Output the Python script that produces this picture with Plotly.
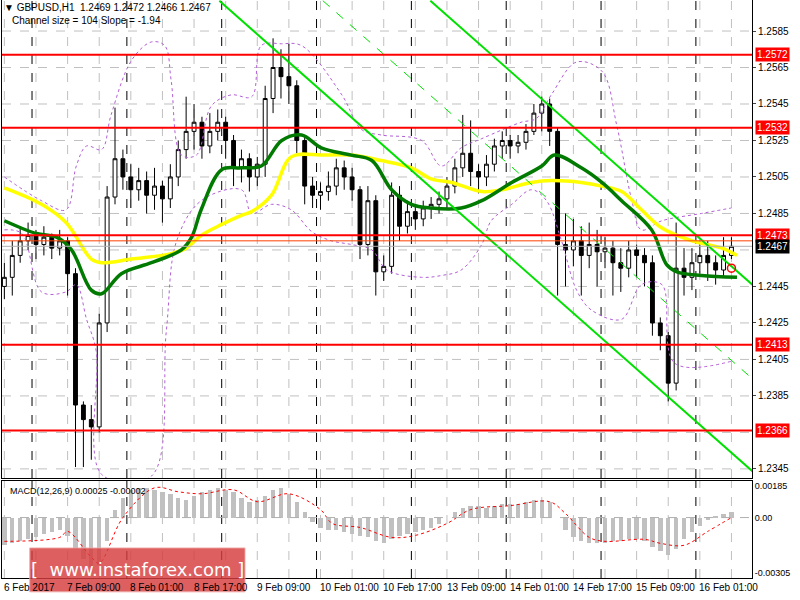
import plotly.graph_objects as go
from plotly.subplots import make_subplots

# ---------------- data (2-hour bars, index 0 = 6 Feb 2017 17:00) ----------------
close = [1.2450,1.2462,1.2470,1.2473,1.2468,1.2472,1.2466,1.2470,1.2452,1.2380,1.2372,1.2368,1.2425,1.2494,1.2515,1.2505,
         1.2498,1.2503,1.2495,1.2500,1.2493,1.2505,1.2520,1.2530,1.2535,1.2522,1.2530,1.2535,1.2525,1.2510,1.2515,1.2505,
         1.2512,1.2548,1.2565,1.2560,1.2555,1.2525,1.2500,1.2495,1.2497,1.2500,1.2510,1.2505,1.2498,1.2468,1.2492,1.2453,
         1.2456,1.2495,1.2478,1.2486,1.2482,1.2488,1.2490,1.2493,1.2500,1.2510,1.2518,1.2508,1.2505,1.2512,1.2522,1.2525,
         1.2522,1.2524,1.2530,1.2540,1.2545,1.2530,1.2468,1.2465,1.2470,1.2462,1.2468,1.2464,1.2466,1.2458,1.2455,1.2465,
         1.2462,1.2458,1.2425,1.2418,1.2392,1.2455,1.2450,1.2458,1.2462,1.2458,1.2454,1.2462,1.2467]
first_open = 1.2445
high = [1.2458,1.2470,1.2478,1.2480,1.2476,1.2478,1.2474,1.2476,1.2472,1.2455,1.2382,1.2380,1.2430,1.2500,1.2543,1.2520,
        1.2512,1.2510,1.2508,1.2510,1.2503,1.2512,1.2525,1.2549,1.2545,1.2538,1.2540,1.2542,1.2538,1.2528,1.2520,1.2518,
        1.2516,1.2555,1.2581,1.2575,1.2578,1.2558,1.2528,1.2505,1.2502,1.2508,1.2515,1.2514,1.2510,1.2500,1.2500,1.2495,
        1.2462,1.2502,1.2500,1.2492,1.2490,1.2492,1.2494,1.2497,1.2505,1.2515,1.2539,1.2536,1.2512,1.2517,1.2526,1.2530,
        1.2528,1.2528,1.2534,1.2545,1.2549,1.2548,1.2532,1.2485,1.2482,1.2478,1.2480,1.2476,1.2472,1.2470,1.2466,1.2470,
        1.2468,1.2466,1.2462,1.2428,1.2420,1.2480,1.2466,1.2466,1.2470,1.2470,1.2462,1.2472,1.2472]
low = [1.2438,1.2440,1.2458,1.2465,1.2460,1.2462,1.2460,1.2462,1.2440,1.2346,1.2346,1.2350,1.2365,1.2420,1.2490,1.2498,
       1.2488,1.2492,1.2485,1.2487,1.2480,1.2488,1.2500,1.2515,1.2520,1.2515,1.2518,1.2525,1.2515,1.2500,1.2502,1.2497,
       1.2500,1.2505,1.2540,1.2548,1.2545,1.2518,1.2490,1.2488,1.2487,1.2492,1.2495,1.2498,1.2492,1.2460,1.2462,1.2440,
       1.2448,1.2452,1.2470,1.2474,1.2476,1.2478,1.2482,1.2485,1.2488,1.2496,1.2505,1.2500,1.2496,1.2500,1.2508,1.2515,
       1.2515,1.2518,1.2520,1.2528,1.2530,1.2522,1.2440,1.2445,1.2456,1.2440,1.2455,1.2445,1.2455,1.2440,1.2442,1.2450,
       1.2450,1.2445,1.2418,1.2410,1.2382,1.2388,1.2440,1.2443,1.2452,1.2448,1.2446,1.2450,1.2460]

ma_fast_x = [0,4.05,6.6,8.5,11,12.3,14.8,18.6,22.4,23.7,24.9,27.5,30,32.5,35.1,37.6,40.1,43.9,46.5,49,51.5,54,57.8,60.4,64.2,68,69.6,73,75.6,78.1,81.9,83.8,85.1,88.2,92.7]
ma_fast_y = [1.2481,1.2474,1.2472,1.2465,1.2443,1.2441,1.2452,1.2458,1.2465,1.2472,1.2487,1.2509,1.2510,1.2511,1.2525,1.2528,1.2521,1.2517,1.2514,1.2498,1.2490,1.2488,1.2488,1.2492,1.2502,1.2511,1.2517,1.2510,1.2502,1.2492,1.2476,1.2457,1.2453,1.2451,1.2450]
ma_slow_x = [0,4.7,7.8,11,12.3,16.1,21.1,23,24.9,27.5,30,31.3,33.8,36.3,40.1,43.9,47.7,51.5,54,56.6,60.4,62.9,66.7,69.2,73,75.6,78.1,80.6,83.2,87,90.8,92.7]
ma_slow_y = [1.2499,1.2490,1.2480,1.2460,1.2458,1.2460,1.2463,1.2466,1.2473,1.2479,1.2484,1.2486,1.2495,1.2516,1.2517,1.2517,1.2514,1.2510,1.2504,1.2502,1.2497,1.2498,1.2502,1.2503,1.2502,1.2500,1.2497,1.2487,1.2477,1.2470,1.2466,1.2462]

band_up_x = [0,4.7,7.8,9.1,10.4,12.3,13.5,16.1,18.6,20.3,21.1,22.4,24.3,26.2,28.7,31.3,32.5,35.1,37.6,42.7,45.2,47.7,52.8,55.3,57.8,60.4,65.4,67.3,69.2,72.4,75.6,77.5,79.4,80.6,83.2,88.2,92]
band_up_y = [1.2505,1.2492,1.2487,1.2511,1.2522,1.2520,1.2539,1.2569,1.2579,1.2577,1.2558,1.2517,1.2517,1.2544,1.2550,1.2549,1.2577,1.2578,1.2577,1.2550,1.2531,1.2528,1.2525,1.2511,1.2521,1.2526,1.2535,1.2537,1.2550,1.2568,1.2563,1.2533,1.2492,1.2476,1.2481,1.2485,1.2488]
band_lo_x = [0,2.2,4.7,7.8,9.1,10.4,11.6,12.3,18.6,20.5,21.8,24.9,30,31.3,33.8,36.3,38.9,41.4,43.9,46.5,48.4,52.8,55.3,57.8,60.4,61.6,64.2,66.7,68.6,70.5,72.4,74.3,78.1,80.6,83.2,84.8,92]
band_lo_y = [1.2476,1.2474,1.2442,1.2442,1.2446,1.2427,1.2410,1.2342,1.2341,1.2421,1.2470,1.2492,1.2498,1.2485,1.2490,1.2487,1.2475,1.2470,1.2468,1.2465,1.2454,1.2450,1.2451,1.2454,1.2468,1.2481,1.2490,1.2498,1.2492,1.2470,1.2443,1.2432,1.2427,1.2446,1.2446,1.2403,1.2404]

chan_lower = ([27.2, 95.8], [1.26016, 1.23393])
chan_upper = ([53.9, 95.8], [1.26016, 1.24415])
chan_mid = ([40.3, 95.8], [1.26016, 1.2390])

levels = [1.2572, 1.2532, 1.2473, 1.2413, 1.2366]
bid = 1.2467
ask = 1.2470
price_ticks = [1.2345, 1.2385, 1.2405, 1.2425, 1.2445, 1.2485, 1.2505, 1.2525, 1.2545, 1.2565, 1.2585]
grid_levels = [1.2345, 1.2365, 1.2385, 1.2405, 1.2425, 1.2445, 1.2465, 1.2485, 1.2505, 1.2525, 1.2545, 1.2565, 1.2585]

macd_hist = [-0.0014,-0.0013,-0.0012,-0.0011,-0.0010,-0.0008,-0.0007,-0.0006,-0.0009,-0.0016,-0.0021,-0.0025,-0.0024,-0.0012,0.0004,
             0.0010,0.0014,0.0015,0.0015,0.0014,0.0013,0.0012,0.0010,0.0009,0.0011,0.0013,0.0014,0.0015,0.0014,0.0013,
             0.0010,0.0008,0.0009,0.0011,0.0014,0.0015,0.0012,0.0008,0.0003,-0.0002,-0.0005,-0.0006,-0.0006,-0.0007,-0.0008,-0.0009,
             -0.0010,-0.0012,-0.0013,-0.0011,-0.0009,-0.0008,-0.0007,-0.0006,-0.0005,-0.0003,0.0000,0.0003,0.0005,0.0006,
             0.0006,0.0005,0.0006,0.0007,0.0007,0.0007,0.0008,0.0009,0.0009,0.0008,0.0000,-0.0006,-0.0010,-0.0012,-0.0013,-0.0013,
             -0.0013,-0.0012,-0.0012,-0.0011,-0.0011,-0.0012,-0.0015,-0.0017,-0.0019,-0.0016,-0.0011,-0.0007,-0.0004,-0.0001,0.0001,
             0.0002,0.0003]
sig_x = [0,7,8,11,12,15,19,22,25,29,32,36,40,41.5,45,49,52,56,59,64,69,71,74,76,81,83,86,89,92]
sig_y = [-0.0012,-0.0010,-0.0007,-0.0020,-0.0023,0.0000,0.0015,0.0013,0.0012,0.0014,0.0008,0.0012,0.0004,-0.0003,-0.0005,-0.0010,-0.0009,-0.0003,0.0004,0.0006,0.0008,0.0002,-0.0010,-0.0012,-0.0011,-0.0013,-0.0014,-0.0007,0.0000]

tick_labels = ["6 Feb 2017","7 Feb 09:00","8 Feb 01:00","8 Feb 17:00","9 Feb 09:00","10 Feb 01:00",
               "10 Feb 17:00","13 Feb 09:00","14 Feb 01:00","14 Feb 17:00","15 Feb 09:00","16 Feb 01:00"]

assert len(close) == len(high) == len(low) == len(macd_hist)
n = len(close)
xs = list(range(n))
opens = [first_open] + close[:-1]

FONT = "Liberation Sans"

fig = make_subplots(rows=2, cols=1, shared_xaxes=True)

fig.add_trace(go.Candlestick(x=xs, open=opens, high=high, low=low, close=close,
                             increasing=dict(line=dict(color="black", width=1), fillcolor="white"),
                             decreasing=dict(line=dict(color="black", width=1), fillcolor="black"),
                             whiskerwidth=0, showlegend=False, hoverinfo="skip"), row=1, col=1)

band = dict(color="#b35fd6", width=1, dash="dot")
fig.add_trace(go.Scatter(x=band_up_x, y=band_up_y, mode="lines", line=band, line_shape="spline", showlegend=False), row=1, col=1)
fig.add_trace(go.Scatter(x=band_lo_x, y=band_lo_y, mode="lines", line=band, line_shape="spline", showlegend=False), row=1, col=1)
fig.add_trace(go.Scatter(x=ma_slow_x, y=ma_slow_y, mode="lines", line=dict(color="#ffff00", width=3.5), line_shape="spline", showlegend=False), row=1, col=1)
fig.add_trace(go.Scatter(x=ma_fast_x, y=ma_fast_y, mode="lines", line=dict(color="#007a00", width=3.5), line_shape="spline", showlegend=False), row=1, col=1)
fig.add_trace(go.Scatter(x=chan_lower[0], y=chan_lower[1], mode="lines", line=dict(color="#00e000", width=2), showlegend=False), row=1, col=1)
fig.add_trace(go.Scatter(x=chan_upper[0], y=chan_upper[1], mode="lines", line=dict(color="#00e000", width=2), showlegend=False), row=1, col=1)
fig.add_trace(go.Scatter(x=chan_mid[0], y=chan_mid[1], mode="lines", line=dict(color="#00e000", width=1, dash="dash"), showlegend=False), row=1, col=1)
fig.add_trace(go.Scatter(x=[92], y=[1.2455], mode="markers", marker=dict(symbol="circle-open", color="red", size=8, line=dict(width=1.5)), showlegend=False), row=1, col=1)

fig.add_trace(go.Bar(x=xs, y=macd_hist, marker_color="#c0c0c0", marker_line_width=0, width=0.55, showlegend=False), row=2, col=1)
fig.add_trace(go.Scatter(x=sig_x, y=sig_y, mode="lines", line=dict(color="red", width=1, dash="dot"), line_shape="spline", showlegend=False), row=2, col=1)

shapes = []
for g in grid_levels:
    shapes.append(dict(type="line", xref="x domain", yref="y", x0=0, x1=1, y0=g, y1=g, layer="below",
                       line=dict(color="#c0c0c0", width=1, dash="dash")))
for k in range(0, 96, 4):
    for yr in ("y domain", "y2 domain"):
        shapes.append(dict(type="line", xref="x", yref=yr, x0=k, x1=k, y0=0, y1=1, layer="below",
                           line=dict(color="#c0c0c0", width=1, dash="dash")))
for k in range(0, 8):
    d = 3.5 + 12 * k
    for yr in ("y domain", "y2 domain"):
        shapes.append(dict(type="line", xref="x", yref=yr, x0=d, x1=d, y0=0, y1=1, layer="below",
                           line=dict(color="black", width=1, dash="dash")))
for lv in levels:
    shapes.append(dict(type="line", xref="x domain", yref="y", x0=0, x1=1, y0=lv, y1=lv, line=dict(color="red", width=2)))
shapes.append(dict(type="line", xref="x domain", yref="y", x0=0, x1=1, y0=ask, y1=ask, line=dict(color="#ff4000", width=1)))
shapes.append(dict(type="line", xref="x domain", yref="y", x0=0, x1=1, y0=bid, y1=bid, line=dict(color="#b0b0b0", width=1)))
shapes.append(dict(type="line", xref="x domain", yref="y2", x0=0, x1=1, y0=0, y1=0, line=dict(color="#b0b0b0", width=1, dash="dash")))
shapes.append(dict(type="rect", xref="paper", yref="paper", x0=0.037, x1=0.324, y0=-0.024, y1=0.052,
                   fillcolor="rgba(215,60,60,0.82)", line=dict(color="rgba(240,170,170,0.9)", width=1)))

ann = []
for lv in levels:
    ann.append(dict(xref="paper", yref="y", x=1.004, y=lv, text=f"{lv:.4f}", showarrow=False, xanchor="left",
                    font=dict(color="white", size=10, family=FONT), bgcolor="red", borderpad=1))
ann.append(dict(xref="paper", yref="y", x=1.004, y=bid, text=f"{bid:.4f}", showarrow=False, xanchor="left",
                font=dict(color="white", size=10, family=FONT), bgcolor="black", borderpad=1))
ann.append(dict(xref="paper", yref="paper", x=0.0, y=1.0, yanchor="top", xanchor="left", showarrow=False,
                text="▼ GBPUSD,H1  1.2469 1.2472 1.2466 1.2467", font=dict(size=10, family=FONT, color="black")))
ann.append(dict(xref="paper", yref="paper", x=0.01, y=0.977, yanchor="top", xanchor="left", showarrow=False,
                text="Channel size = 104 Slope = -1.94", font=dict(size=10, family=FONT, color="black")))
ann.append(dict(xref="paper", yref="y2 domain", x=0.008, y=0.97, yanchor="top", xanchor="left", showarrow=False,
                text="MACD(12,26,9) 0.00025 -0.00002", font=dict(size=9, family=FONT, color="black")))
for i, t in enumerate(tick_labels):
    ann.append(dict(xref="x", yref="paper", x=8 * i - 0.3, y=-0.004, yanchor="top", xanchor="left", showarrow=False,
                    text=t, font=dict(size=10, family=FONT, color="black")))
ann.append(dict(xref="paper", yref="paper", x=0.18, y=0.014, xanchor="center", yanchor="middle", showarrow=False,
                text="[  www.instaforex.com ]", font=dict(size=18, family="DejaVu Sans", color="white")))

fig.update_layout(width=800, height=600, margin=dict(l=2, r=48, t=0, b=22), paper_bgcolor="white", plot_bgcolor="white",
                  shapes=shapes, annotations=ann, bargap=0, showlegend=False,
                  xaxis_rangeslider_visible=False,
                  yaxis=dict(domain=[0.173, 1.0]), yaxis2=dict(domain=[0.0, 0.168]))
fig.update_xaxes(range=[-0.3, 94.6], showgrid=False, showticklabels=False, zeroline=False,
                 showline=True, linecolor="black", mirror=True)
fig.update_yaxes(row=1, col=1, range=[1.2340, 1.2602], side="right", tickvals=price_ticks, tickformat=".4f",
                 showgrid=False, zeroline=False, ticks="outside", ticklen=3,
                 showline=True, linecolor="black", mirror=True, tickfont=dict(size=10, family=FONT, color="black"))
fig.update_yaxes(row=2, col=1, range=[-0.00305, 0.00185], side="right", tickvals=[0.00160, 0, -0.0028],
                 ticktext=["0.00185", "0.00", "-0.00305"], showgrid=False, zeroline=False, ticks="",
                 showline=True, linecolor="black", mirror=True, tickfont=dict(size=9, family=FONT, color="black"))

fig.write_html("out.html", config={"displayModeBar": False},
               post_script="document.body.style.margin='0';document.body.style.overflow='hidden';")
